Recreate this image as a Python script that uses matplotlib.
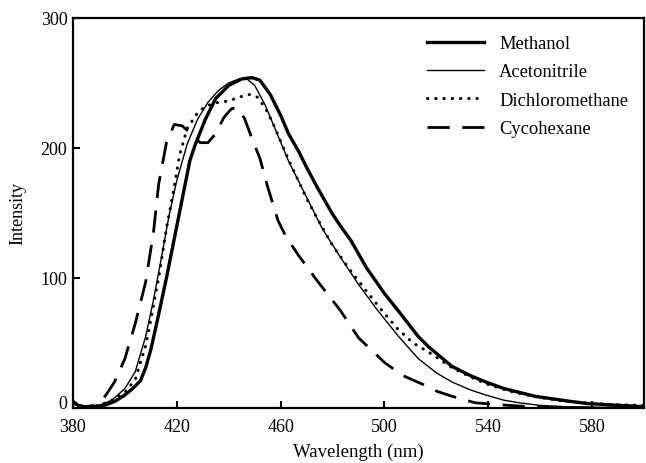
import matplotlib
matplotlib.use("Agg")
import matplotlib.pyplot as plt

# values
wl_meoh = [380, 382, 384, 388, 392, 396, 400, 403, 406, 408, 410, 413, 416, 420, 423, 425, 427, 431, 435, 440,
           445, 449, 452, 456, 460, 463, 467, 470, 474, 480, 483, 487, 493, 500, 506, 513, 517, 526, 533, 539,
           546, 552, 558, 565, 572, 578, 586, 596, 600]
int_meoh = [5, 2, 1, 1, 2, 5, 10, 15, 21, 31, 45, 72, 100, 140, 170, 190, 202, 222, 238, 248,
            253, 254, 252, 241, 225, 211, 197, 185, 170, 149, 140, 129, 108, 88, 73, 55, 47, 32, 25, 20,
            15, 12, 9, 7, 5, 3.5, 2.5, 1.5, 1]

wl_acn = [380, 382, 385, 390, 395, 400, 404, 408, 411, 414, 417, 420, 424, 428, 432, 436, 440, 444, 447, 450,
          454, 458, 463, 470, 476, 483, 490, 497, 505, 513, 520, 526, 533, 539, 546, 552, 560, 570, 585, 600]
int_acn = [5, 2, 1, 2, 6, 15, 28, 55, 83, 115, 148, 175, 203, 222, 235, 244, 250, 253, 253, 248,
           233, 214, 190, 162, 138, 116, 95, 76, 56, 38, 27, 20, 14, 10, 6, 4, 2, 1, 0.5, 0.5]

wl_dcm = [380, 382, 385, 390, 395, 400, 404, 408, 410, 413, 416, 419, 421, 424, 428, 431, 436, 440, 444, 448,
          451, 454, 457, 460, 463, 467, 470, 474, 480, 486, 493, 499, 505, 511, 517, 526, 533, 540, 550, 560,
          570, 580, 590, 600]
int_dcm = [5, 2, 1, 2, 6, 12, 22, 48, 68, 100, 138, 170, 194, 215, 227, 232, 235, 236, 239, 241,
           239, 231, 219, 205, 191, 174, 161, 146, 125, 108, 90, 75, 61, 50, 43, 31, 24, 18, 12, 8,
           5, 3.5, 2.5, 2]

wl_chx = [380, 382, 385, 388, 392, 396, 400, 404, 408, 411, 413, 416, 419, 422, 426, 429, 432, 435, 438, 441,
          443, 446, 449, 452, 455, 459, 462, 467, 474, 483, 490, 500, 507, 515, 520, 526, 535, 548, 561, 580, 600]
int_chx = [4, 2, 1, 2, 8, 20, 38, 65, 97, 135, 172, 204, 218, 217, 210, 204, 204, 211, 223, 230,
           231, 223, 207, 192, 170, 144, 132, 117, 98, 75, 54, 35, 25, 18, 13, 9, 4, 2, 0.5, 0, 0]

labels = ["Methanol", "Acetonitrile", "Dichloromethane", "Cycohexane"]
x_ticks = [380, 420, 460, 500, 540, 580]
y_ticks = [0, 100, 200, 300]

plt.rcParams["font.family"] = ["Liberation Serif", "DejaVu Serif"]

fig = plt.figure(figsize=(6.46, 4.64), dpi=100)
ax = fig.add_axes([0.113, 0.1185, 0.884, 0.841])

ax.plot(wl_meoh, int_meoh, color="black", lw=2.4, solid_joinstyle="round", label=labels[0])
ax.plot(wl_acn, int_acn, color="black", lw=1.0, label=labels[1])
ax.plot(wl_dcm, int_dcm, color="black", lw=2.2, linestyle=(0, (0.1, 2.6)),
        dash_capstyle="round", label=labels[2])
ax.plot(wl_chx, int_chx, color="black", lw=2.0, linestyle=(0, (8, 4.5)), label=labels[3])

ax.set_xlim(380, 600)
ax.set_ylim(0, 300)
ax.set_xticks(x_ticks)
ax.set_yticks(y_ticks)
ax.tick_params(direction="in", length=5, width=1.5, labelsize=13)
ax.tick_params(axis="x", pad=7)
ax.tick_params(axis="y", pad=4)
for s in ax.spines.values():
    s.set_linewidth(1.6)

# the "0" sits a little above the corner, clear of "380"
ax.get_yticklabels()[0].set_verticalalignment("baseline")

ax.set_xlabel("Wavelength (nm)", fontsize=13.5, labelpad=6)
ax.set_ylabel("Intensity", fontsize=13, labelpad=10)

ax.legend(loc="upper left", bbox_to_anchor=(427 / 646, 1 - 36 / 464), bbox_transform=fig.transFigure,
          frameon=False, fontsize=13.3, handlelength=3.1, handletextpad=0.8, labelspacing=0.62,
          borderpad=0, borderaxespad=0)

fig.savefig("out.png", dpi=100)
